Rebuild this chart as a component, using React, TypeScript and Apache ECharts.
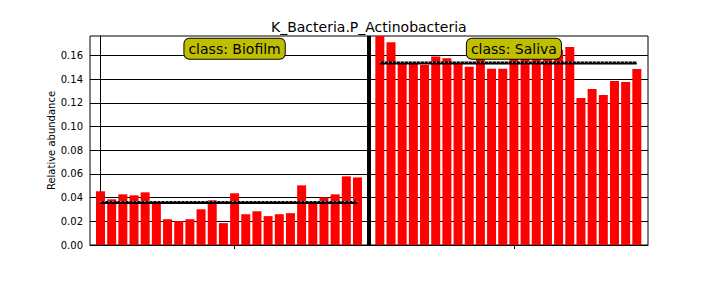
import React, { useEffect, useRef } from "react";
import * as echarts from "echarts";

const titleText = "K_Bacteria.P_Actinobacteria";
const yAxisName = "Relative abundance";
const groupNames = ["class: Biofilm", "class: Saliva"];
const biofilm = [
  0.0454, 0.0386, 0.0428, 0.042, 0.0445, 0.037, 0.0218, 0.0202, 0.0218, 0.0302, 0.0378, 0.0185,
  0.0437, 0.026, 0.0285, 0.0244, 0.026, 0.0269, 0.0504, 0.037, 0.0403, 0.0428, 0.058, 0.0571,
];
const saliva = [
  0.182, 0.1713, 0.154, 0.154, 0.152, 0.1593, 0.1579, 0.1535, 0.1506, 0.162, 0.1489, 0.1489,
  0.165, 0.163, 0.164, 0.164, 0.165, 0.1674, 0.1243, 0.1319, 0.1268, 0.1386, 0.1377, 0.1487,
];
const groupMeans = [0.036, 0.1537];
const groupTickPositions = [12, 37];
const separatorPosition = 24;
const salivaOffset = 25;
const yTicks = [0, 0.02, 0.04, 0.06, 0.08, 0.1, 0.12, 0.14, 0.16];
const yMax = 0.1766;
const labelY = 0.1659;

const FONT = "DejaVu Sans";

export default function App() {
  const ref = useRef<HTMLDivElement>(null);
  useEffect(() => {
    document.body.style.margin = "0";
    const chart = echarts.init(ref.current!, null, { renderer: "svg" });
    const bioData = biofilm.map((v, i) => [i, v]);
    const salData = saliva.map((v, i) => [i + salivaOffset, v]);
    const groupRanges = [
      [0, biofilm.length - 1],
      [salivaOffset, salivaOffset + saliva.length - 1],
    ];
    const meanSeries: any[] = [];
    groupRanges.forEach((r, g) => {
      meanSeries.push({
        type: "line",
        data: [
          [r[0], groupMeans[g]],
          [r[1], groupMeans[g]],
        ],
        symbol: "none",
        lineStyle: { color: "#000", width: 3, type: "solid" },
        z: 5,
        silent: true,
      });
      meanSeries.push({
        type: "line",
        data: [
          [r[0], groupMeans[g] + 0.0008],
          [r[1], groupMeans[g] + 0.0008],
        ],
        symbol: "none",
        lineStyle: { color: "#fff", width: 1, type: [1, 3] },
        z: 6,
        silent: true,
      });
    });
    chart.setOption({
      animation: false,
      backgroundColor: "#fff",
      textStyle: { fontFamily: FONT },
      title: {
        text: titleText,
        left: 266,
        top: 15,
        textStyle: { fontSize: 14, fontWeight: "normal", color: "#000", fontFamily: FONT },
      },
      grid: {
        left: 90,
        right: 72,
        top: 36,
        bottom: 43,
        show: true,
        borderColor: "#000",
        borderWidth: 1,
        backgroundColor: "#fff",
        containLabel: false,
      },
      xAxis: {
        type: "value",
        min: -0.94,
        max: 49,
        splitLine: { show: false },
        axisLine: { show: true, lineStyle: { color: "#000", width: 1 } },
        axisTick: {
          show: true,
          length: 4,
          customValues: groupTickPositions,
          lineStyle: { color: "#000" },
        },
        axisLabel: { show: false },
      },
      yAxis: {
        type: "value",
        min: 0,
        max: yMax,
        name: yAxisName,
        nameLocation: "middle",
        nameGap: 34,
        nameMoveOverlap: false,
        nameTextStyle: { fontSize: 10, color: "#000", fontFamily: FONT },
        axisLine: { show: true, lineStyle: { color: "#000", width: 1 } },
        axisTick: {
          show: true,
          length: 4,
          customValues: yTicks,
          lineStyle: { color: "#000" },
        },
        axisLabel: {
          customValues: yTicks,
          fontSize: 10,
          color: "#000",
          margin: 7,
          fontFamily: FONT,
          formatter: (v: number) => v.toFixed(2),
        },
        splitLine: { show: true, lineStyle: { color: "#000", width: 1 } },
      },
      series: [
        {
          type: "bar",
          data: bioData,
          barWidth: 9,
          itemStyle: { color: "#ff0000" },
          clip: true,
          z: 3,
        },
        {
          type: "bar",
          data: salData,
          barWidth: 9,
          barGap: "-100%",
          itemStyle: { color: "#ff0000" },
          clip: true,
          z: 3,
          markLine: {
            silent: true,
            symbol: ["none", "none"],
            label: { show: false },
            lineStyle: { color: "#000", width: 4, type: "solid" },
            data: [{ xAxis: separatorPosition }],
          },
        },
        ...meanSeries,
        {
          type: "scatter",
          symbolSize: 1,
          z: 20,
          zlevel: 1,
          silent: true,
          itemStyle: { opacity: 1, color: "rgba(0,0,0,0)" },
          data: groupTickPositions.map((x, i) => ({ value: [x, labelY], name: groupNames[i] })),
          label: {
            show: true,
            position: "inside",
            opacity: 1,
            formatter: (p: any) => p.name,
            fontSize: 14,
            fontFamily: FONT,
            color: "#000",
            backgroundColor: "#bfbf00",
            borderColor: "#000",
            borderWidth: 1,
            borderRadius: 5,
            padding: [3, 4, 3, 4],
          },
        },
      ],
    });
    return () => chart.dispose();
  }, []);
  return <div ref={ref} style={{ width: 720, height: 288 }} />;
}
